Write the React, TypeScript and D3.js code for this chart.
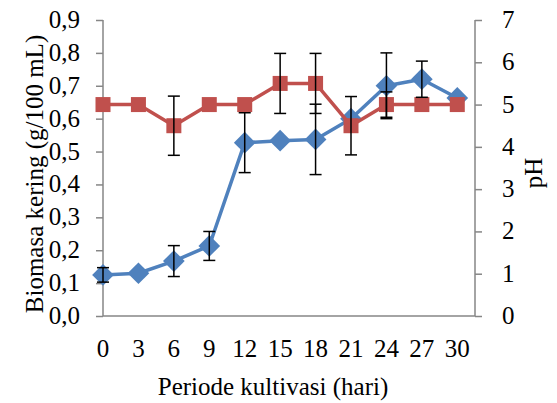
import React, { useEffect, useRef } from 'react';
import * as d3 from 'd3';

// hari kultivasi
const days = [0, 3, 6, 9, 12, 15, 18, 21, 24, 27, 30];
// biomasa kering (g/100 mL) + error
const biomass = [0.125, 0.13, 0.167, 0.213, 0.527, 0.533, 0.537, 0.6, 0.7, 0.72, 0.663];
const biomassErr = [0.022, 0, 0.047, 0.044, 0.091, 0, 0.107, 0, 0.1, 0.055, 0];
// pH + error
const ph = [5.0, 5.0, 4.5, 5.0, 5.0, 5.5, 5.5, 4.5, 5.0, 5.0, 5.0];
const phErr = [0, 0, 0.7, 0, 0, 0.71, 0.71, 0.69, 0.3, 0, 0];

const leftTicks = [0, 0.1, 0.2, 0.3, 0.4, 0.5, 0.6, 0.7, 0.8, 0.9];
const rightTicks = [0, 1, 2, 3, 4, 5, 6, 7];

const FONT = '"Liberation Serif", "Times New Roman", serif';
const FS = '25px';

export default function App() {
  const ref = useRef<SVGSVGElement>(null);

  useEffect(() => {
    const svg = d3.select(ref.current);
    svg.selectAll('*').remove();

    const left = 103, right = 475, top = 20, bottom = 316;
    const x = d3.scaleLinear().domain([0, 31.5]).range([left, right]);
    const yL = d3.scaleLinear().domain([0, 0.9]).range([bottom, top]);
    const yR = d3.scaleLinear().domain([0, 7]).range([bottom, top]);
    const axisColor = '#868686';

    // left axis
    const gl = svg.append('g').attr('transform', `translate(${left},0)`)
      .call(d3.axisLeft(yL).tickValues(leftTicks).tickSize(7).tickPadding(16)
        .tickFormat(d => d3.format('.1f')(d as number).replace('.', ',')));
    // right axis
    const gr = svg.append('g').attr('transform', `translate(${right},0)`)
      .call(d3.axisRight(yR).tickValues(rightTicks).tickSize(7).tickPadding(20)
        .tickFormat(d3.format('d')));
    [gl, gr].forEach(g => {
      g.attr('font-family', FONT).attr('font-size', 25);
      g.select('.domain').attr('stroke', axisColor).attr('stroke-width', 1.5);
      g.selectAll('.tick line').attr('stroke', axisColor).attr('stroke-width', 1.5);
      g.selectAll('.tick text').attr('fill', '#000').attr('dy', '0.3em')
        .style('font-family', FONT);
    });
    gl.select('.domain').attr('d', `M0,${top}V${bottom}`);
    gr.select('.domain').attr('d', `M0,${top}V${bottom}`);

    // bottom axis line
    svg.append('line').attr('x1', left).attr('x2', right).attr('y1', bottom).attr('y2', bottom)
      .attr('stroke', axisColor).attr('stroke-width', 1.5);

    // x labels
    svg.append('g').selectAll('text').data(days).enter().append('text')
      .attr('x', d => x(d)).attr('y', 357)
      .attr('text-anchor', 'middle')
      .style('font-family', FONT).style('font-size', FS)
      .text(d => d);

    // titles
    svg.append('text').attr('x', 273).attr('y', 395)
      .attr('text-anchor', 'middle').style('font-family', FONT).style('font-size', FS)
      .text('Periode kultivasi (hari)');
    svg.append('text').attr('transform', `translate(43,174) rotate(-90)`)
      .attr('text-anchor', 'middle').style('font-family', FONT).style('font-size', FS)
      .text('Biomasa kering (g/100 mL)');
    svg.append('text').attr('transform', `translate(542,173) rotate(-90)`)
      .attr('text-anchor', 'middle').style('font-family', FONT).style('font-size', FS)
      .text('pH');

    const blue = '#4F81BD', red = '#C0504D';

    // biomass series (primary axis, drawn first)
    const lineL = d3.line<number>().x((_, i) => x(days[i])).y(d => yL(d));
    svg.append('path').attr('d', lineL(biomass)).attr('fill', 'none')
      .attr('stroke', blue).attr('stroke-width', 3.5).attr('stroke-linejoin', 'round');
    const diamond = d3.symbol().type(d3.symbolDiamond2).size(300);
    svg.append('g').selectAll('path').data(biomass).enter().append('path')
      .attr('d', diamond)
      .attr('transform', (d, i) => `translate(${x(days[i])},${yL(d)})`)
      .attr('fill', blue);

    // pH series (secondary axis, on top)
    const lineR = d3.line<number>().x((_, i) => x(days[i])).y(d => yR(d));
    svg.append('path').attr('d', lineR(ph)).attr('fill', 'none')
      .attr('stroke', red).attr('stroke-width', 3.5).attr('stroke-linejoin', 'round');
    svg.append('g').selectAll('rect').data(ph).enter().append('rect')
      .attr('x', (_, i) => x(days[i]) - 7.5).attr('y', d => yR(d) - 7.5)
      .attr('width', 15).attr('height', 15).attr('fill', red);

    // error bars
    const errs: { cx: number; y1: number; y2: number }[] = [];
    ph.forEach((v, i) => { if (phErr[i] > 0) errs.push({ cx: x(days[i]), y1: yR(v - phErr[i]), y2: yR(v + phErr[i]) }); });
    biomass.forEach((v, i) => { if (biomassErr[i] > 0) errs.push({ cx: x(days[i]), y1: yL(v - biomassErr[i]), y2: yL(v + biomassErr[i]) }); });
    const eg = svg.append('g').attr('stroke', '#000').attr('stroke-width', 1.5);
    errs.forEach(e => {
      eg.append('line').attr('x1', e.cx).attr('x2', e.cx).attr('y1', e.y1).attr('y2', e.y2);
      eg.append('line').attr('x1', e.cx - 6).attr('x2', e.cx + 6).attr('y1', e.y1).attr('y2', e.y1);
      eg.append('line').attr('x1', e.cx - 6).attr('x2', e.cx + 6).attr('y1', e.y2).attr('y2', e.y2);
    });
  }, []);

  return (
    <svg ref={ref} width={557} height={403}
      style={{ position: 'absolute', left: 0, top: 0, background: '#fff' }} />
  );
}
